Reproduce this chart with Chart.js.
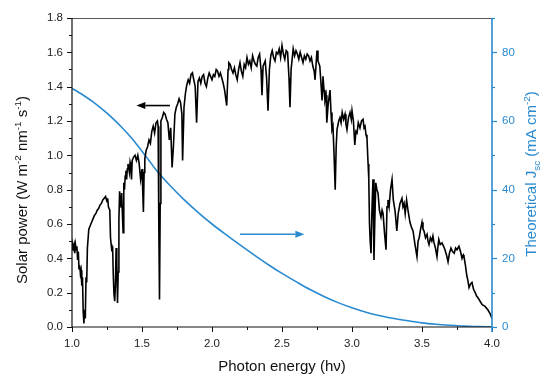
<!DOCTYPE html>
<html>
<head>
<meta charset="utf-8">
<script src="https://cdn.jsdelivr.net/npm/chart.js"></script>
<style>
  body { margin: 0; background: #fff; }
  canvas { display: block; }
</style>
</head>
<body>
<canvas id="myChart" width="544" height="380"></canvas>
<script>
// photon energy (eV) and solar power
const specEnergy = [
  1.000, 1.005, 1.010, 1.015, 1.020, 1.025, 1.030, 1.035, 1.040, 1.045, 1.050, 1.055, 1.060, 1.065, 1.070, 1.075,
  1.080, 1.085, 1.090, 1.095, 1.100, 1.105, 1.110, 1.120, 1.130, 1.140, 1.150, 1.160, 1.170, 1.180, 1.190, 1.200,
  1.210, 1.220, 1.230, 1.240, 1.250, 1.255, 1.260, 1.270, 1.275, 1.280, 1.285, 1.290, 1.295, 1.300, 1.305, 1.310,
  1.315, 1.320, 1.325, 1.330, 1.335, 1.340, 1.345, 1.350, 1.355, 1.360, 1.365, 1.370, 1.375, 1.380, 1.385, 1.390,
  1.395, 1.400, 1.410, 1.415, 1.420, 1.425, 1.430, 1.440, 1.450, 1.460, 1.470, 1.480, 1.490, 1.500, 1.505, 1.510,
  1.515, 1.520, 1.530, 1.540, 1.550, 1.560, 1.570, 1.580, 1.590, 1.600, 1.610, 1.615, 1.620, 1.625, 1.630, 1.635,
  1.645, 1.655, 1.665, 1.675, 1.685, 1.695, 1.705, 1.715, 1.725, 1.735, 1.745, 1.755, 1.765, 1.775, 1.785, 1.790,
  1.800, 1.810, 1.820, 1.830, 1.840, 1.850, 1.860, 1.870, 1.880, 1.890, 1.900, 1.910, 1.920, 1.930, 1.940, 1.950,
  1.960, 1.970, 1.980, 1.990, 2.000, 2.010, 2.020, 2.030, 2.040, 2.050, 2.060, 2.070, 2.080, 2.090, 2.105, 2.115,
  2.120, 2.130, 2.140, 2.150, 2.160, 2.170, 2.180, 2.190, 2.200, 2.210, 2.220, 2.230, 2.240, 2.250, 2.260, 2.270,
  2.280, 2.290, 2.300, 2.310, 2.320, 2.330, 2.340, 2.350, 2.357, 2.365, 2.380, 2.390, 2.400, 2.410, 2.420, 2.430,
  2.440, 2.450, 2.460, 2.470, 2.480, 2.490, 2.500, 2.510, 2.520, 2.530, 2.540, 2.550, 2.557, 2.565, 2.580, 2.590,
  2.600, 2.610, 2.620, 2.630, 2.640, 2.650, 2.660, 2.670, 2.680, 2.690, 2.700, 2.710, 2.720, 2.730, 2.736, 2.745,
  2.750, 2.757, 2.770, 2.780, 2.786, 2.793, 2.800, 2.807, 2.815, 2.820, 2.830, 2.843, 2.850, 2.857, 2.864, 2.872,
  2.880, 2.887, 2.893, 2.905, 2.914, 2.922, 2.930, 2.940, 2.950, 2.957, 2.964, 2.975, 2.986, 2.995, 3.000, 3.010,
  3.020, 3.028, 3.036, 3.045, 3.057, 3.068, 3.079, 3.086, 3.093, 3.100, 3.107, 3.115, 3.120, 3.125, 3.130, 3.136,
  3.143, 3.150, 3.157, 3.163, 3.170, 3.178, 3.186, 3.196, 3.207, 3.215, 3.222, 3.232, 3.243, 3.250, 3.257, 3.265,
  3.275, 3.286, 3.295, 3.307, 3.314, 3.320, 3.330, 3.343, 3.357, 3.364, 3.372, 3.380, 3.390, 3.400, 3.414, 3.425,
  3.436, 3.450, 3.464, 3.472, 3.480, 3.490, 3.500, 3.507, 3.514, 3.525, 3.536, 3.543, 3.550, 3.560, 3.570, 3.578,
  3.586, 3.596, 3.607, 3.614, 3.620, 3.630, 3.643, 3.654, 3.664, 3.675, 3.686, 3.696, 3.707, 3.718, 3.730, 3.740,
  3.750, 3.764, 3.775, 3.786, 3.795, 3.800, 3.810, 3.820, 3.828, 3.836, 3.846, 3.857, 3.868, 3.880, 3.890, 3.900,
  3.915, 3.930, 3.950, 3.970, 3.985, 4.000
];
const specPower = [
  0.45, 0.48, 0.46, 0.48, 0.43, 0.48, 0.45, 0.47, 0.39, 0.44, 0.34, 0.36, 0.31, 0.33, 0.24, 0.29,
  0.09, 0.02, 0.10, 0.05, 0.29, 0.26, 0.46, 0.57, 0.59, 0.61, 0.63, 0.65, 0.66, 0.68, 0.69, 0.71,
  0.72, 0.74, 0.75, 0.76, 0.73, 0.75, 0.70, 0.68, 0.52, 0.48, 0.44, 0.47, 0.30, 0.19, 0.15, 0.24,
  0.46, 0.38, 0.14, 0.32, 0.62, 0.79, 0.75, 0.70, 0.78, 0.66, 0.55, 0.84, 0.80, 0.88, 0.91, 0.86,
  0.92, 0.95, 0.90, 0.96, 0.94, 0.86, 0.97, 0.99, 1.00, 0.97, 1.00, 0.95, 0.86, 0.92, 0.80, 0.67,
  0.90, 0.98, 1.03, 1.05, 1.09, 1.07, 1.14, 1.17, 1.13, 1.19, 1.20, 1.17, 0.60, 0.16, 0.72, 1.20,
  1.22, 1.25, 1.24, 1.21, 1.19, 1.09, 1.16, 0.93, 1.06, 1.24, 1.28, 1.30, 1.33, 1.31, 1.24, 0.97,
  1.28, 1.36, 1.41, 1.44, 1.42, 1.47, 1.48, 1.44, 1.40, 1.19, 1.43, 1.45, 1.42, 1.46, 1.47, 1.42,
  1.40, 1.45, 1.48, 1.46, 1.44, 1.47, 1.46, 1.50, 1.49, 1.46, 1.48, 1.45, 1.42, 1.38, 1.29, 1.50,
  1.54, 1.53, 1.50, 1.48, 1.51, 1.47, 1.44, 1.50, 1.54, 1.49, 1.46, 1.53, 1.51, 1.57, 1.53, 1.55,
  1.51, 1.58, 1.55, 1.53, 1.52, 1.57, 1.59, 1.50, 1.35, 1.52, 1.55, 1.45, 1.26, 1.50, 1.58, 1.61,
  1.57, 1.55, 1.60, 1.59, 1.62, 1.57, 1.64, 1.59, 1.56, 1.61, 1.60, 1.45, 1.28, 1.50, 1.62, 1.58,
  1.61, 1.59, 1.56, 1.60, 1.57, 1.54, 1.58, 1.56, 1.59, 1.58, 1.55, 1.57, 1.52, 1.49, 1.44, 1.55,
  1.61, 1.55, 1.52, 1.40, 1.32, 1.46, 1.38, 1.32, 1.35, 1.19, 1.30, 1.38, 1.25, 1.15, 1.17, 1.00,
  0.80, 1.05, 1.15, 1.20, 1.22, 1.19, 1.25, 1.21, 1.24, 1.18, 1.15, 1.22, 1.25, 1.21, 1.26, 1.20,
  1.06, 1.14, 1.13, 1.19, 1.16, 1.20, 1.21, 1.16, 1.17, 1.12, 1.10, 0.95, 0.86, 0.60, 0.50, 0.43,
  0.70, 0.86, 0.39, 0.62, 0.84, 0.80, 0.78, 0.68, 0.64, 0.68, 0.66, 0.55, 0.45, 0.70, 0.74, 0.70,
  0.80, 0.86, 0.74, 0.68, 0.62, 0.56, 0.66, 0.72, 0.75, 0.70, 0.72, 0.66, 0.74, 0.68, 0.61, 0.58,
  0.56, 0.48, 0.41, 0.50, 0.52, 0.57, 0.61, 0.57, 0.56, 0.52, 0.54, 0.50, 0.48, 0.52, 0.50, 0.53,
  0.49, 0.46, 0.41, 0.47, 0.51, 0.48, 0.49, 0.47, 0.45, 0.42, 0.38, 0.43, 0.46, 0.44, 0.43, 0.46,
  0.45, 0.47, 0.44, 0.40, 0.42, 0.41, 0.36, 0.30, 0.27, 0.23, 0.25, 0.26, 0.22, 0.20, 0.18, 0.17,
  0.15, 0.13, 0.12, 0.10, 0.08, 0.05
];

// theoretical Jsc (mA cm-2) against photon energy
const jscEnergy = [1.0, 1.05, 1.1, 1.15, 1.2, 1.25, 1.3, 1.35, 1.4, 1.45, 1.5, 1.55, 1.6, 1.7, 1.8, 1.9, 2.0,
  2.1, 2.2, 2.3, 2.4, 2.5, 2.6, 2.7, 2.8, 2.9, 3.0, 3.1, 3.2, 3.3, 3.4, 3.5, 3.6, 3.7, 3.8, 3.9, 4.0];
const jscValues = [69.5, 68.3, 67.0, 65.6, 64.0, 62.3, 60.4, 58.4, 56.2, 53.8, 51.2, 48.5, 45.8, 41.2, 37.1, 33.4, 30.0,
  26.9, 23.9, 21.0, 18.2, 15.6, 13.2, 10.9, 8.9, 7.1, 5.6, 4.3, 3.3, 2.5, 1.8, 1.2, 0.8, 0.5, 0.25, 0.1, 0.0];

// axis ranges and tick steps
const xRange = [1.0, 4.0];
const powerRange = [0, 1.8];
const jscRange = [0, 90];
const xStep = 0.5;
const powerStep = 0.2;
const jscStep = 20;

// arrows: [x from, x to, y on the power axis]
const blackArrow = [1.70, 1.46, 1.29];
const blueArrow = [2.20, 2.66, 0.54];

const BLUE = '#2a8ad0';
const FONT = "'Liberation Sans', Arial, sans-serif";

function drawRich(ctx, parts, cx, cy, rot, color, size) {
  ctx.save();
  ctx.translate(cx, cy);
  ctx.rotate(rot);
  ctx.fillStyle = color;
  ctx.textBaseline = 'alphabetic';
  ctx.textAlign = 'left';
  let total = 0;
  parts.forEach(p => {
    const s = (p.sup || p.sub) ? size * 0.66 : size;
    ctx.font = s + 'px ' + FONT;
    p.w = ctx.measureText(p.t).width;
    p.s = s;
    total += p.w;
  });
  let x = -total / 2;
  const base = size * 0.36;
  parts.forEach(p => {
    ctx.font = p.s + 'px ' + FONT;
    let y = base;
    if (p.sup) y = base - size * 0.42;
    if (p.sub) y = base + size * 0.22;
    ctx.fillText(p.t, x, y);
    x += p.w;
  });
  ctx.restore();
}

function drawArrow(ctx, x1, x2, y, color) {
  const dir = x2 > x1 ? 1 : -1;
  const head = 9;
  ctx.save();
  ctx.strokeStyle = color;
  ctx.fillStyle = color;
  ctx.lineWidth = 1.6;
  ctx.beginPath();
  ctx.moveTo(x1, y);
  ctx.lineTo(x2 - dir * head, y);
  ctx.stroke();
  ctx.beginPath();
  ctx.moveTo(x2, y);
  ctx.lineTo(x2 - dir * head, y - 3.5);
  ctx.lineTo(x2 - dir * head, y + 3.5);
  ctx.closePath();
  ctx.fill();
  ctx.restore();
}

// frame, major/minor ticks, axis titles and arrows
const decorations = {
  id: 'decorations',
  afterDatasetsDraw(chart) {
    const ctx = chart.ctx;
    const a = chart.chartArea;
    const sx = chart.scales.x, sy = chart.scales.y, sj = chart.scales.y2;

    ctx.save();
    ctx.lineWidth = 1;
    // top frame
    ctx.strokeStyle = '#555';
    ctx.beginPath(); ctx.moveTo(a.left, a.top + 0.5); ctx.lineTo(a.right, a.top + 0.5); ctx.stroke();
    // left and bottom axes
    ctx.strokeStyle = '#111';
    ctx.lineWidth = 1.2;
    ctx.beginPath();
    ctx.moveTo(a.left, a.top); ctx.lineTo(a.left, a.bottom); ctx.lineTo(a.right, a.bottom);
    ctx.stroke();
    ctx.lineWidth = 1;
    for (let v = xRange[0]; v <= xRange[1] + 1e-6; v += xStep / 2) {
      const major = Math.abs(v / xStep - Math.round(v / xStep)) < 1e-6;
      const px = Math.round(sx.getPixelForValue(v)) + 0.5;
      ctx.beginPath(); ctx.moveTo(px, a.bottom); ctx.lineTo(px, a.bottom + (major ? 5 : 3)); ctx.stroke();
    }
    for (let v = powerRange[0]; v <= powerRange[1] + 1e-6; v += powerStep / 2) {
      const major = Math.abs(v / powerStep - Math.round(v / powerStep)) < 1e-6;
      const py = Math.round(sy.getPixelForValue(v)) + 0.5;
      ctx.beginPath(); ctx.moveTo(a.left, py); ctx.lineTo(a.left - (major ? 5 : 3), py); ctx.stroke();
    }
    // right axis in blue
    ctx.strokeStyle = BLUE;
    ctx.lineWidth = 1.6;
    ctx.beginPath(); ctx.moveTo(a.right, a.top); ctx.lineTo(a.right, a.bottom + 5); ctx.stroke();
    ctx.lineWidth = 1.2;
    for (let v = jscRange[0]; v <= jscRange[1] + 1e-6; v += jscStep / 2) {
      const major = Math.abs(v / jscStep - Math.round(v / jscStep)) < 1e-6;
      const py = Math.round(sj.getPixelForValue(v)) + 0.5;
      ctx.beginPath(); ctx.moveTo(a.right, py); ctx.lineTo(a.right + (major ? 5 : 3), py); ctx.stroke();
    }
    ctx.restore();

    drawArrow(ctx, sx.getPixelForValue(blackArrow[0]), sx.getPixelForValue(blackArrow[1]),
      sy.getPixelForValue(blackArrow[2]), '#000');
    drawArrow(ctx, sx.getPixelForValue(blueArrow[0]), sx.getPixelForValue(blueArrow[1]),
      sy.getPixelForValue(blueArrow[2]), BLUE);

    drawRich(ctx, [{t: 'Solar power (W m'}, {t: '-2', sup: true}, {t: ' nm'}, {t: '-1', sup: true},
      {t: ' s'}, {t: '-1', sup: true}, {t: ')'}], 22, 190, -Math.PI / 2, '#111', 15);
    drawRich(ctx, [{t: 'Theoretical J'}, {t: 'sc', sub: true}, {t: ' (mA cm'}, {t: '-2', sup: true},
      {t: ')'}], 531, 174, -Math.PI / 2, BLUE, 15);
    drawRich(ctx, [{t: 'Photon energy (h\u03bd)'}], (a.left + a.right) / 2, 366, 0, '#111', 15);
  }
};

const spectrum = specEnergy.map((e, i) => ({x: e, y: specPower[i]}));
const jsc = jscEnergy.map((e, i) => ({x: e, y: jscValues[i]}));

const myChart = new Chart(document.getElementById('myChart'), {
  type: 'line',
  data: {
    datasets: [{
      label: 'Solar power',
      data: spectrum,
      yAxisID: 'y',
      borderColor: '#000',
      borderWidth: 1.6,
      pointRadius: 0,
      tension: 0
    },
    {
      label: 'Theoretical Jsc',
      data: jsc,
      yAxisID: 'y2',
      borderColor: BLUE,
      borderWidth: 1.6,
      pointRadius: 0,
      cubicInterpolationMode: 'monotone'
    }]
  },
  options: {
    responsive: false,
    animation: false,
    devicePixelRatio: 1,
    layout: { padding: { top: 18, left: 0, right: 0, bottom: 0 } },
    plugins: { legend: { display: false }, tooltip: { enabled: false } },
    scales: {
      x: {
        type: 'linear',
        min: xRange[0], max: xRange[1],
        grid: { display: false, drawTicks: false },
        border: { display: false },
        ticks: {
          stepSize: xStep, autoSkip: false, padding: 10, color: '#222',
          font: { family: FONT, size: 11.5 },
          callback: v => v.toFixed(1)
        },
        afterFit: s => { s.height = 53; }
      },
      y: {
        position: 'left',
        min: powerRange[0], max: powerRange[1],
        grid: { display: false, drawTicks: false },
        border: { display: false },
        ticks: {
          stepSize: powerStep, autoSkip: false, padding: 9, color: '#222',
          font: { family: FONT, size: 11.5 },
          callback: v => v.toFixed(1)
        },
        afterFit: s => { s.width = 72; }
      },
      y2: {
        position: 'right',
        min: jscRange[0], max: jscRange[1],
        grid: { display: false, drawTicks: false },
        border: { display: false },
        ticks: {
          stepSize: jscStep, autoSkip: false, padding: 10, color: BLUE, includeBounds: false,
          font: { family: FONT, size: 11.5 }
        },
        afterFit: s => { s.width = 52; }
      }
    }
  },
  plugins: [decorations]
});
</script>
</body>
</html>
